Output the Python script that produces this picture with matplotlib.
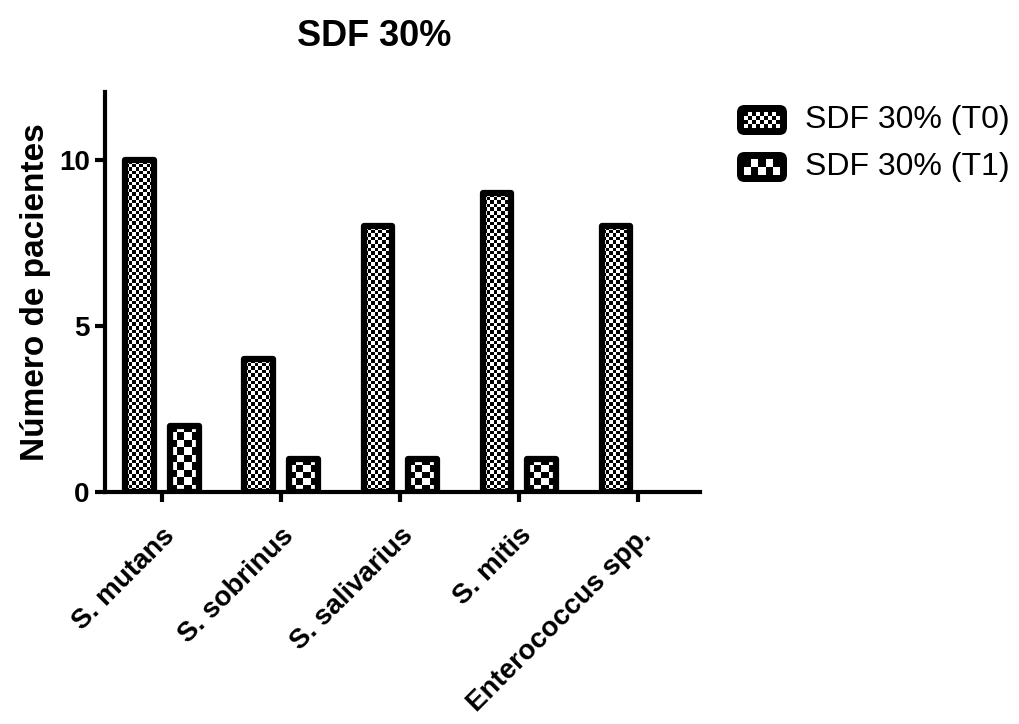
import numpy as np
import matplotlib
matplotlib.use("Agg")
import matplotlib.pyplot as plt
from matplotlib.patches import FancyBboxPatch

plt.rcParams['font.family'] = ['Liberation Sans', 'DejaVu Sans']

categories = ["S. mutans", "S. sobrinus", "S. salivarius", "S. mitis", "Enterococcus spp."]
t0_values = [10, 4, 8, 9, 8]
t1_values = [2, 1, 1, 1, 0]
series_labels = ["SDF 30% (T0)", "SDF 30% (T1)"]
title = "SDF 30%"
ylabel = "Número de pacientes"
yticks = [0, 5, 10]

W, H = 1019, 724
fig = plt.figure(figsize=(W / 100, H / 100), dpi=100)
ax = fig.add_axes([105 / W, 1 - 492 / H, (700 - 105) / W, (492 - 92) / H])

x = np.arange(len(categories))
bw = 0.24
off = 0.187
lw_bar = 4.5


def checker(nr, nc):
    return (np.add.outer(np.arange(nr), np.arange(nc)) % 2).astype(float)


def fill_checker(ax, bar, cell_px):
    if bar.get_height() <= 0:
        return
    x0, y0 = bar.get_x(), bar.get_y()
    x1, y1 = x0 + bar.get_width(), y0 + bar.get_height()
    p0 = ax.transData.transform((x0, y0))
    p1 = ax.transData.transform((x1, y1))
    nc = max(1, int(round(abs(p1[0] - p0[0]) / cell_px)))
    nr = max(1, int(round(abs(p1[1] - p0[1]) / cell_px)))
    im = ax.imshow(checker(nr, nc), cmap="gray", vmin=0, vmax=1,
                   extent=(x0, x1, y0, y1), origin="lower",
                   interpolation="nearest", aspect="auto", zorder=1)
    im.set_clip_path(bar)


XLIM = (-0.479, 4.52)
YLIM = (0, 12.05)
ax.set_xlim(*XLIM)
ax.set_ylim(*YLIM)

bars0 = ax.bar(x - off, t0_values, bw, facecolor="none", edgecolor="black",
               linewidth=lw_bar, zorder=2, joinstyle="round")
bars1 = ax.bar(x + off, t1_values, bw, facecolor="none", edgecolor="black",
               linewidth=lw_bar, zorder=2, joinstyle="round")
for b in bars1:
    if b.get_height() == 0:
        b.set_visible(False)

for b in bars0:
    fill_checker(ax, b, 3.6)
for b in bars1:
    fill_checker(ax, b, 7.3)

ax.set_xlim(*XLIM)
ax.set_ylim(*YLIM)

for s in ["top", "right"]:
    ax.spines[s].set_visible(False)
for s in ["left", "bottom"]:
    ax.spines[s].set_linewidth(3.0)
    ax.spines[s].set_zorder(3)
    ax.spines[s].set_capstyle("projecting")

ax.set_yticks(yticks)
ax.set_yticklabels([str(v) for v in yticks], fontsize=20, fontweight="bold")
ax.set_xticks(x)
ax.set_xticklabels(categories, fontsize=20, fontweight="bold", rotation=45,
                   ha="right", va="top", rotation_mode="anchor")
ax.tick_params(axis="both", width=3.0, length=7, direction="out")
ax.tick_params(axis="y", pad=4)
ax.tick_params(axis="x", pad=15)
ax.set_ylabel(ylabel, fontsize=24, fontweight="bold", labelpad=6)

fig.text(374 / W, 1 - 36 / H, title, fontsize=26, fontweight="bold",
         ha="center", va="center")

# Legend (manual swatches + text)
leg_items = [(series_labels[0], 3.8, 120), (series_labels[1], 7.0, 167)]
for lab, cell, yc in leg_items:
    sw_w, sw_h = 50, 30
    sax = fig.add_axes([737 / W, 1 - (yc + sw_h / 2) / H, sw_w / W, sw_h / H])
    sax.set_xlim(0, 1)
    sax.set_ylim(0, 1)
    sax.axis("off")
    border = FancyBboxPatch((0, 0), 1, 1, boxstyle="round,pad=0,rounding_size=0.15",
                            facecolor="black", edgecolor="none", transform=sax.transAxes,
                            mutation_aspect=sw_w / sw_h)
    sax.add_patch(border)
    bx, by = 7, 7
    inner_w = sw_w - 2 * bx
    inner_h = sw_h - 2 * by
    nc = max(1, int(round(inner_w / cell)))
    nr = max(1, int(round(inner_h / cell)))
    sax.imshow(checker(nr, nc), cmap="gray", vmin=0, vmax=1,
               extent=(bx / sw_w, 1 - bx / sw_w, by / sw_h, 1 - by / sw_h),
               interpolation="nearest", aspect="auto", zorder=3)
    sax.set_xlim(0, 1)
    sax.set_ylim(0, 1)
    fig.text(805 / W, 1 - yc / H, lab, fontsize=23, ha="left", va="center")

fig.savefig("out.png", dpi=100)
